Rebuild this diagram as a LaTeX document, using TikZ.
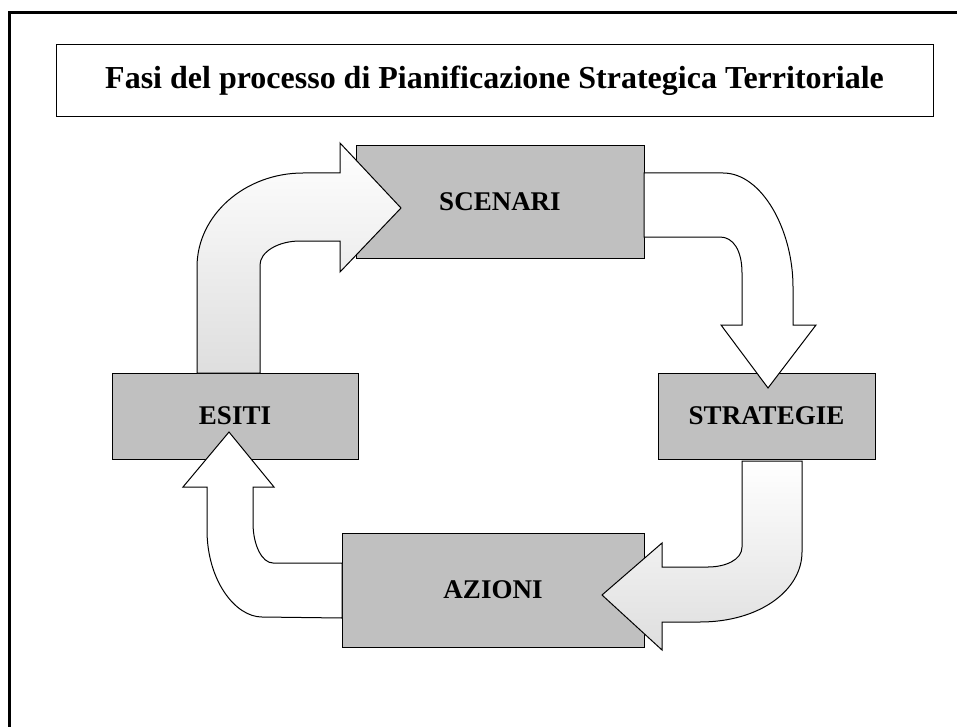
\documentclass[tikz,border=0pt]{standalone}
\usepackage{fontspec}
\setmainfont{Liberation Serif}
\definecolor{boxgray}{HTML}{C0C0C0}
\definecolor{arrowgray}{HTML}{DEDEDE}
\begin{document}
\begin{tikzpicture}[x=1pt,y=-1pt,
  phase/.style={draw=black, line width=0.9pt, fill=boxgray, inner sep=0pt,
    font=\fontsize{27}{32}\selectfont\bfseries},
  titlebox/.style={draw=black, line width=1pt, fill=white, inner sep=0pt,
    font=\fontsize{32}{38}\selectfont\bfseries},
  blockarrow/.style={draw=black, line width=1pt, line join=miter},
  shadedarrow/.style={blockarrow, top color=white, bottom color=arrowgray},
  plainarrow/.style={blockarrow, fill=white},
  frameline/.style={draw=black, line width=3pt}
]
\useasboundingbox (0,0) rectangle (957,727);
% outer frame (only left and top edges visible)
\draw[frameline] (957,12.5) -- (9.5,12.5) -- (9.5,727);
% title
\node[titlebox, minimum width=877pt, minimum height=72pt] (title) at (494.5,81)
  {Fasi del processo di Pianificazione Strategica Territoriale};
% phases
\node[phase, minimum width=288pt, minimum height=113pt] (scen) at (500,201.5) {SCENARI};
\node[phase, minimum width=217pt, minimum height=86pt] (strat) at (766.5,416) {STRATEGIE};
\node[phase, minimum width=302pt, minimum height=114pt] (azioni) at (493,590) {AZIONI};
\node[phase, minimum width=246pt, minimum height=86pt] (esiti) at (235,416) {ESITI};
% ESITI -> SCENARI
\path[shadedarrow] (197,373) -- (197,267) .. controls (197,215) and (245,173) .. (303,173)
  -- (340,173) -- (340,143) -- (401,208) -- (340,272) -- (340,241) -- (300,241)
  .. controls (278,241) and (260,252) .. (260,265) -- (260,373) -- cycle;
% SCENARI -> STRATEGIE
\path[plainarrow] (644,173) -- (723,173) .. controls (762,173) and (793,230) .. (793,287)
  -- (793,325) -- (816,325) -- (768,388) -- (721,325) -- (742,325) -- (742,273)
  .. controls (742,250) and (733,237) .. (720,237) -- (644,237) -- cycle;
% STRATEGIE -> AZIONI
\path[shadedarrow] (742,461) -- (742,547) .. controls (742,560) and (725,567) .. (708,567)
  -- (662,567) -- (662,543) -- (602,595) -- (662,650) -- (662,622) -- (700,622)
  .. controls (760,622) and (802,590) .. (802,552) -- (802,461) -- cycle;
% AZIONI -> ESITI
\path[plainarrow] (342,563) -- (273,563) .. controls (262,563) and (253,545) .. (253,523)
  -- (253,487) -- (274,487) -- (229,432) -- (183,487) -- (207,487) -- (207,530)
  .. controls (207,580) and (235,617) .. (262,617) -- (342,618) -- cycle;
\end{tikzpicture}
\end{document}
